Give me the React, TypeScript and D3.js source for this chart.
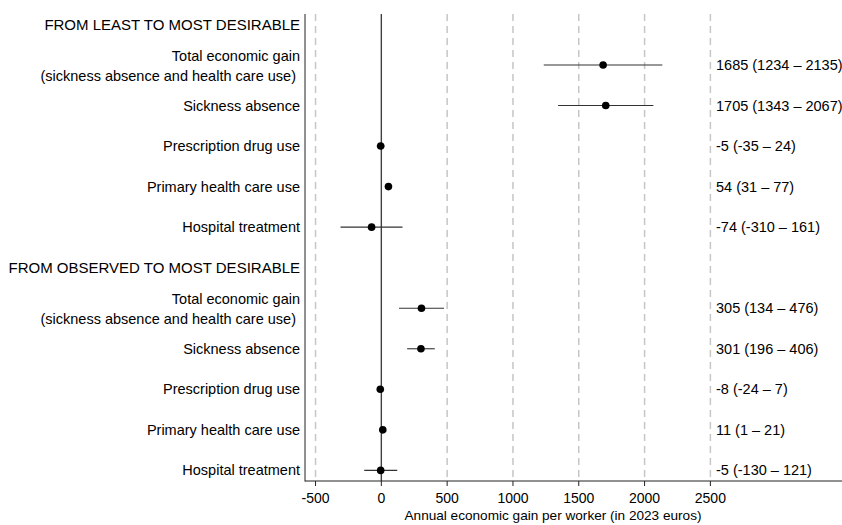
import React from "react";
import * as d3 from "d3";

// Section headers and outcome rows, in drawing order (top to bottom)
const sections = ["FROM LEAST TO MOST DESIRABLE", "FROM OBSERVED TO MOST DESIRABLE"];
const outcomes = [
  ["Total economic gain", "(sickness absence and health care use) "],
  ["Sickness absence"],
  ["Prescription drug use"],
  ["Primary health care use"],
  ["Hospital treatment"],
];

// Estimates with 95% confidence limits, one array per section
const leastToMostEst = [1685, 1705, -5, 54, -74];
const leastToMostLo = [1234, 1343, -35, 31, -310];
const leastToMostHi = [2135, 2067, 24, 77, 161];

const observedToMostEst = [305, 301, -8, 11, -5];
const observedToMostLo = [134, 196, -24, 1, -130];
const observedToMostHi = [476, 406, 7, 21, 121];

const xTicks = [-500, 0, 500, 1000, 1500, 2000, 2500];
const xDomain = [-580, 3500];
const xTitle = "Annual economic gain per worker (in 2023 euros)";

const FONT = "'Liberation Sans', Arial, Helvetica, sans-serif";

type Row = { label: string[]; est: number; lo: number; hi: number; idx: number };

export default function App() {
  const W = 842;
  const H = 525;
  const plotLeft = 305;
  const plotRight = 842;
  const plotTop = 14;
  const axisY = 481;

  const x = d3.scaleLinear().domain(xDomain).range([plotLeft, plotRight]);
  // row index 0 = first header, 6 = second header
  const y = d3.scaleLinear().domain([0, 11]).range([24.4, 470.4]);

  const groups = [
    { est: leastToMostEst, lo: leastToMostLo, hi: leastToMostHi },
    { est: observedToMostEst, lo: observedToMostLo, hi: observedToMostHi },
  ];

  const rows: Row[] = [];
  groups.forEach((g, gi) => {
    outcomes.forEach((lab, i) => {
      rows.push({ label: lab, est: g.est[i], lo: g.lo[i], hi: g.hi[i], idx: gi * 6 + 1 + i });
    });
  });

  const labelX = 300;
  const valueX = 716;
  const fmt = (r: Row) => `${r.est} (${r.lo} \u2013 ${r.hi})`;

  return (
    <svg
      width={W}
      height={H}
      style={{ position: "absolute", left: 0, top: 0, background: "#fff" }}
      fontFamily={FONT}
    >
      {/* dashed reference lines */}
      {xTicks
        .filter((t) => t !== 0)
        .map((t) => (
          <line
            key={"g" + t}
            x1={x(t)}
            x2={x(t)}
            y1={plotTop}
            y2={axisY}
            stroke="#c6c6c6"
            strokeWidth={1.5}
            strokeDasharray="7,5"
          />
        ))}

      {/* zero line */}
      <line x1={x(0)} x2={x(0)} y1={plotTop} y2={axisY} stroke="#404040" strokeWidth={1.4} />

      {/* frame: left and bottom */}
      <line x1={plotLeft} x2={plotLeft} y1={plotTop} y2={axisY + 0.5} stroke="#222" strokeWidth={1} />
      <line x1={plotLeft} x2={plotRight} y1={axisY} y2={axisY} stroke="#222" strokeWidth={1} />

      {/* x ticks */}
      {xTicks.map((t) => (
        <g key={"t" + t}>
          <line x1={x(t)} x2={x(t)} y1={axisY} y2={axisY + 5} stroke="#222" strokeWidth={1} />
          <text x={x(t)} y={axisY + 17} dy="0.35em" textAnchor="middle" fontSize={14} fill="#000">
            {t}
          </text>
        </g>
      ))}
      <text x={553} y={520} textAnchor="middle" fontSize={13.6} fill="#000">
        {xTitle}
      </text>

      {/* section headers */}
      {sections.map((s, i) => (
        <text key={s} x={labelX} y={y(i * 6)} dy="0.35em" textAnchor="end" fontSize={15} fill="#000">
          {s}
        </text>
      ))}

      {/* outcome rows */}
      {rows.map((r) => {
        const cy = y(r.idx);
        return (
          <g key={r.idx}>
            {r.label.length === 1 ? (
              <text x={labelX} y={cy} dy="0.35em" textAnchor="end" fontSize={14.5} fill="#000">
                {r.label[0]}
              </text>
            ) : (
              r.label.map((l, li) => (
                <text
                  key={li}
                  x={labelX}
                  y={cy - 9.5 + li * 20}
                  dy="0.35em"
                  textAnchor="end"
                  fontSize={14.5}
                  fill="#000"
                  style={{ whiteSpace: "pre" }}
                >
                  {l}
                </text>
              ))
            )}
            <line x1={x(r.lo)} x2={x(r.hi)} y1={cy} y2={cy} stroke="#333" strokeWidth={1.1} />
            <circle cx={x(r.est)} cy={cy} r={3.8} fill="#000" />
            <text x={valueX} y={cy} dy="0.35em" fontSize={14.5} fill="#000" style={{ whiteSpace: "pre" }}>
              {fmt(r)}
            </text>
          </g>
        );
      })}
    </svg>
  );
}
